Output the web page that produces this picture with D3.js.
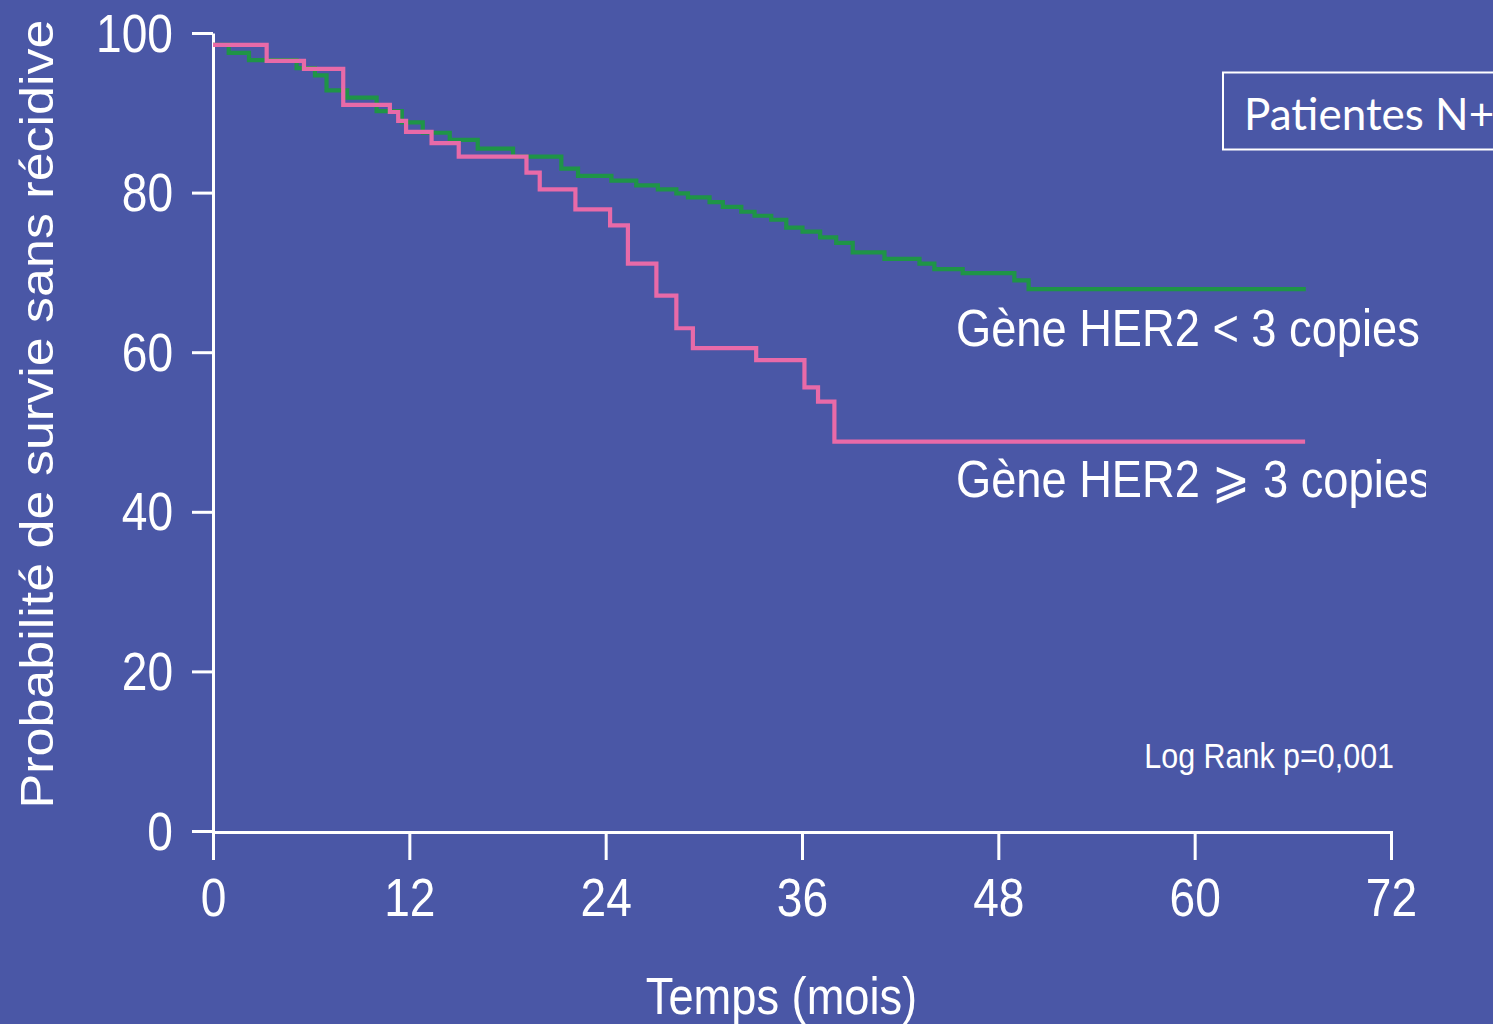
<!DOCTYPE html>
<html>
<head>
<meta charset="utf-8">
<script src="https://cdn.jsdelivr.net/npm/d3@7"></script>
<style>
  html, body { margin: 0; padding: 0; background: #4a57a6; }
  svg { display: block; }
</style>
</head>
<body>
<svg id="chart" width="1493" height="1024"></svg>
<script>
// Kaplan-Meier estimates: time (months) and relapse-free survival (%)
const lowCopyTimes = [0, 0.96, 2.20, 5.11, 6.23, 6.94, 8.2, 10.0, 11.54, 12.82, 14.47, 16.18, 18.34, 21.29, 22.31, 24.35, 25.87, 27.19, 28.32, 29.03, 30.35, 31.16, 32.29, 33.10, 34.12, 35.04, 36.03, 37.11, 38.09, 39.10, 41.04, 43.18, 44.09, 45.82, 48.98, 49.85, 66.79];
const lowCopySurv  = [98.5, 97.5, 96.6, 95.6, 94.7, 92.8, 91.9, 90.2, 88.8, 87.5, 86.6, 85.5, 84.5, 83.0, 82.1, 81.5, 80.9, 80.4, 79.9, 79.4, 78.8, 78.2, 77.6, 77.1, 76.6, 75.6, 75.1, 74.4, 73.7, 72.5, 71.7, 71.1, 70.4, 69.9, 69.0, 67.9, 67.9];

const highCopyTimes = [0, 3.28, 5.56, 7.96, 10.81, 11.32, 11.80, 13.36, 15.02, 19.16, 19.97, 22.15, 24.27, 25.36, 27.10, 28.32, 29.33, 33.20, 36.15, 36.98, 37.98, 66.75];
const highCopySurv  = [98.5, 96.5, 95.5, 91.0, 90.1, 89.0, 87.6, 86.2, 84.5, 82.5, 80.4, 77.9, 75.9, 71.1, 67.1, 63.0, 60.5, 59.0, 55.6, 53.8, 48.8, 48.8];

const xTicks = [0, 12, 24, 36, 48, 60, 72];
const yTicks = [0, 20, 40, 60, 80, 100];

const seriesNames = ["Gène HER2 < 3 copies", "Gène HER2 \u2A7E 3 copies"];
const xTitle = "Temps (mois)";
const yTitle = "Probabilité de survie sans récidive";
const testNote = "Log Rank p=0,001";
const panelTitle = "Patientes N+";

const W = 1493, H = 1024;
const plot = { left: 213, right: 1391, top: 33, bottom: 831 };
const squeeze = 0.87;           // horizontal compression of the figure lettering
const font = "'Liberation Sans', Arial, Helvetica, sans-serif";
const white = "#ffffff";
const pink = "#e86aa8";
const green = "#1f9447";

const svg = d3.select("#chart");
svg.append("rect").attr("width", W).attr("height", H).attr("fill", "#4a57a6");

const x = d3.scaleLinear().domain([0, 72]).range([plot.left, plot.right]);
const y = d3.scaleLinear().domain([0, 100]).range([plot.bottom, plot.top]);

// Axes
const yAxis = d3.axisLeft(y).tickValues(yTicks).tickSize(21).tickSizeOuter(0).tickFormat(d3.format("d"));
const xAxis = d3.axisBottom(x).tickValues(xTicks).tickSize(28).tickSizeOuter(0).tickFormat(d3.format("d"));

const gy = svg.append("g").attr("transform", `translate(${plot.left},0)`).call(yAxis);
const gx = svg.append("g").attr("transform", `translate(0,${plot.bottom + 1})`).call(xAxis);

[gx, gy].forEach(g => {
  g.selectAll("path.domain").attr("stroke", white).attr("stroke-width", 3);
  g.selectAll(".tick line").attr("stroke", white).attr("stroke-width", 3);
  g.selectAll(".tick text")
    .attr("fill", white)
    .style("font-family", font)
    .style("font-size", "53px");
});
gy.selectAll(".tick text")
  .attr("x", -40 / squeeze)
  .attr("dy", "0.34em")
  .attr("transform", `scale(${squeeze},1)`);
gx.selectAll(".tick text")
  .attr("y", 84)
  .attr("dy", "0")
  .attr("transform", `scale(${squeeze},1)`);
// the y-axis line continues down to the x tick at 0
gx.selectAll(".tick line").attr("y1", -1);

// Axis titles
svg.append("text")
  .attr("transform", `translate(${W / 2 + 35},1014) scale(${squeeze},1)`)
  .attr("text-anchor", "middle")
  .attr("fill", white)
  .style("font-family", font)
  .style("font-size", "52px")
  .text(xTitle);

svg.append("text")
  .attr("transform", `translate(53,414) scale(0.89,1) rotate(-90)`)
  .attr("text-anchor", "middle")
  .attr("fill", white)
  .style("font-family", font)
  .style("font-size", "52px")
  .text(yTitle);

// Survival curves
const step = d3.line()
  .x(d => x(d[0]))
  .y(d => y(d[1]))
  .curve(d3.curveStepAfter);

const curves = [
  { times: lowCopyTimes, surv: lowCopySurv, color: green },
  { times: highCopyTimes, surv: highCopySurv, color: pink }
];

svg.append("g").selectAll("path")
  .data(curves)
  .join("path")
  .attr("d", c => step(c.times.map((t, i) => [t, c.surv[i]])))
  .attr("fill", "none")
  .attr("stroke", c => c.color)
  .attr("stroke-width", 4.2)
  .attr("stroke-linejoin", "miter");

// Curve labels (the right edge of the figure crops the second one)
svg.append("defs").append("clipPath").attr("id", "figClip")
  .append("rect").attr("x", 0).attr("y", 0).attr("width", 1426).attr("height", H);

const labels = svg.append("g").attr("clip-path", "url(#figClip)");
[[seriesNames[0], 346], [seriesNames[1], 497]].forEach(([txt, by]) => {
  labels.append("text")
    .attr("transform", `translate(956,${by}) scale(${squeeze},1)`)
    .attr("fill", white)
    .style("font-family", font)
    .style("font-size", "52px")
    .text(txt);
});

svg.append("text")
  .attr("transform", `translate(1394,768) scale(${squeeze},1)`)
  .attr("text-anchor", "end")
  .attr("fill", white)
  .style("font-family", font)
  .style("font-size", "35px")
  .text(testNote);

// Panel tag
svg.append("rect")
  .attr("x", 1223).attr("y", 72.5)
  .attr("width", 290).attr("height", 77)
  .attr("fill", "none")
  .attr("stroke", white)
  .attr("stroke-width", 2);

svg.append("text")
  .attr("x", 1244).attr("y", 130)
  .attr("fill", white)
  .style("font-family", "Lato, 'Open Sans', sans-serif")
  .style("font-size", "44px")
  .text(panelTitle);
</script>
</body>
</html>
